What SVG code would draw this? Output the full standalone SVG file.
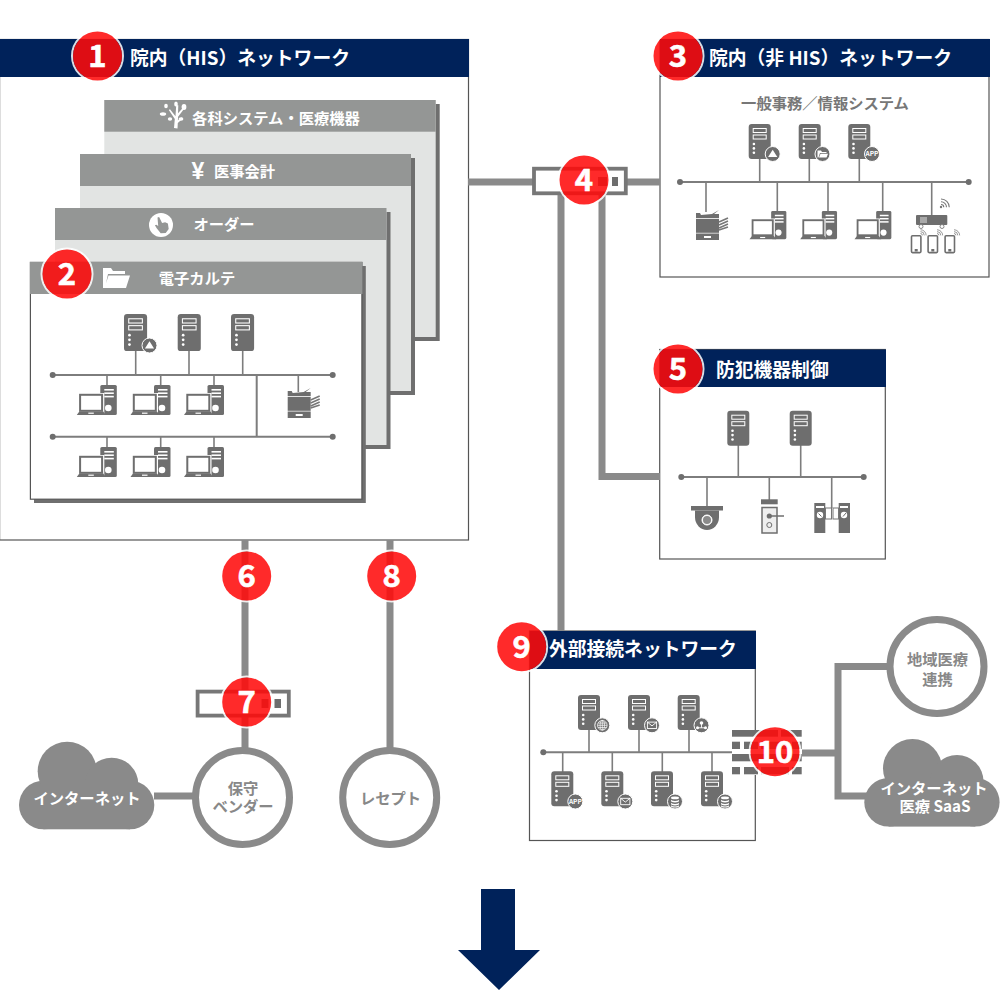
<svg xmlns="http://www.w3.org/2000/svg" xmlns:xlink="http://www.w3.org/1999/xlink" width="1000" height="990" viewBox="0 0 1000 990">
<style>
text{font-family:"Noto Sans CJK JP","Noto Sans",sans-serif;font-weight:700}
.head{fill:#00225a}
.frame{fill:#fff;stroke:#555;stroke-width:1.2}
.page{fill:#e2e4e3}
.pagehead{fill:#949695}
.shadow{fill:#6f6f6f}
.ttl{fill:#fff;font-size:18.8px}
.sub{fill:#fff;font-size:15.3px;text-anchor:middle}
.gray{fill:#888;font-size:15.3px;text-anchor:middle}
.thick{fill:none;stroke:#8a8a8a;stroke-width:7}
.bus{fill:none;stroke:#7d7d7d;stroke-width:2}
.drop{fill:none;stroke:#7d7d7d;stroke-width:1.6}
.dot{fill:#6e6e6e}
.ring{fill:#fff;stroke:#8a8a8a;stroke-width:7}
.gate{fill:#fff;stroke:#777;stroke-width:3.8}
.dev{fill:#6e6e6e}
.w{fill:#fff}
.wl{fill:none;stroke:#fff;stroke-width:1}
.badge-c{fill:#ff0a0a;fill-opacity:.87}
.badge-r{fill:none;stroke:#fff;stroke-opacity:.85;stroke-width:2}
.badge-t{fill:#fff;stroke:#fff;stroke-width:.6;font-size:31px;text-anchor:middle}
.wifi{fill:none;stroke:#777;stroke-width:1}
.mini{fill:#6e6e6e;stroke:#fff;stroke-width:1}
.cl{fill:#8a8a8a}
</style>
<defs>
<g id="srv">
<rect class="dev" width="22" height="35" rx="3"/>
<rect class="wl" x="4.5" y="4.5" width="13" height="4"/>
<rect class="wl" x="4.5" y="11" width="13" height="4"/>
<circle class="w" cx="5.2" cy="20" r="1.3"/><circle class="w" cx="5.2" cy="24.4" r="1.3"/><circle class="w" cx="5.2" cy="28.8" r="1.3"/>
</g>
<g id="pc">
<rect class="dev" x="23" width="16.5" height="30" rx="1.5"/>
<rect class="w" x="27" y="4" width="9.5" height="1.6"/><rect class="w" x="27" y="7.4" width="9.5" height="1.6"/><rect class="w" x="27" y="10.8" width="9.5" height="1.6"/>
<circle class="w" cx="31" cy="23" r="3.3"/>
<path d="M1 8h26v22H-1z" fill="#fff"/>
<rect x="2.8" y="9.8" width="22" height="16" fill="#fff" stroke="#6e6e6e" stroke-width="2"/>
<path class="dev" d="M2 26.5h24l2.5 3.5H-.5z"/>
<rect class="w" x="11" y="27.6" width="5.5" height="1.2"/>
</g>
<g id="printer">
<path class="dev" d="M0 3h4l1 2 11-1 7-4-5 4h5v4H0z"/>
<rect class="dev" y="8.800" width="23" height="14"/>
<path class="dev" d="M0 23.500h23v6.500H0zM8 26v2h7v-2z" fill-rule="evenodd"/>
<path d="M23 12l9-4M23 15l9-4M23 18l9-4M23 20l9-3" stroke="#777" stroke-width="1.600" fill="none"/>
</g>
<g id="cloud">
<circle class="cl" cx="24.3" cy="63.3" r="24.3"/>
<circle class="cl" cx="111" cy="63.3" r="24.3"/>
<circle class="cl" cx="48.2" cy="29.5" r="29.5"/>
<circle class="cl" cx="92.7" cy="42.6" r="26.6"/>
<rect class="cl" x="24.3" y="40" width="86.7" height="47.6"/>
</g>
<g id="wave"><path class="wifi" d="M0 0a2.500 2.500 0 0 1 2.500 2.500M0-2.500a5 5 0 0 1 5 5M0-5a7.500 7.500 0 0 1 7.500 7.500"/></g>
<g id="phone"><rect x=".8" y=".8" width="9.4" height="16.800" rx="1" fill="#fff" stroke="#6e6e6e" stroke-width="1.600"/><rect class="dev" x="4" y="14" width="3" height="2.500"/></g>
<g id="i-tri"><circle class="mini" r="7.5"/><path class="w" d="M0-4.200 4.600 3H-4.600z"/></g>
<g id="i-folder"><circle class="mini" r="7.5"/><path class="w" d="M-5-3.500h3.500l1 1.500H4v1H-2.500L-4 3.500H-5zM-2-.3H5.500L4 3.500H-3.500z"/></g>
<g id="i-app"><circle class="mini" r="7.5"/><text y="2.400" text-anchor="middle" font-size="6.500" style="fill:#fff">APP</text></g>
<g id="i-mail"><circle class="mini" r="7.5"/><rect x="-4.600" y="-3.200" width="9.200" height="6.400" fill="none" stroke="#fff" stroke-width=".9"/><path d="M-4.600-3.200 0 .6 4.600-3.200" fill="none" stroke="#fff" stroke-width=".9"/></g>
<g id="i-globe"><circle class="mini" r="7.5"/><g fill="none" stroke="#fff" stroke-width=".7"><circle r="4.800"/><ellipse rx="2.200" ry="4.800"/><path d="M0-4.800V4.800M-4.800 0H4.800M-4.200-2.200H4.200M-4.200 2.200H4.200"/></g></g>
<g id="i-net"><circle class="mini" r="7.5"/><circle class="w" cy="-2.300" r="1.800"/><circle class="w" cx="-4" cy="2.500" r="1.500"/><circle class="w" cx="4" cy="2.500" r="1.500"/><path d="M-4 2.500H4M0-2V2.500" stroke="#fff" stroke-width=".9"/></g>
<g id="i-db"><circle class="mini" r="7.5"/><path class="w" d="M-4-3.800a4 1.300 0 0 1 8 0v.2a4 1.300 0 0 1-8 0zM-4-2a4 1.400 0 0 0 8 0V-.4a4 1.300 0 0 1-8 0zM-4 1a4 1.400 0 0 0 8 0V2.600a4 1.300 0 0 1-8 0zM-4 3.600a4 1.400 0 0 0 8 0V4.800a4 1.300 0 0 1-8 0z"/></g>
</defs>

<!-- network panels and stacked system pages -->
<g id="panel-his">
<rect class="frame" x="-.4" y="39.500" width="468.900" height="500.500"/>
<rect class="head" x="0" y="39" width="469" height="38"/>
<text class="ttl" x="130" y="65">院内（HIS）ネットワーク</text>
</g>
<g id="page-devices">
<rect class="shadow" x="108.300" y="104" width="331.400" height="237"/>
<rect class="page" x="104.300" y="100" width="331.400" height="237"/>
<rect class="pagehead" x="104.300" y="100" width="331.400" height="31.700"/>
<path class="w" d="M174 128l.8-9-6-9 1.200-.7 5.500 7 .7-11h2.100l-.3 8 4.500-5 1.300 1-5.700 7.500-.2 3.500 4-3 .9 1.100-5 4.500-.3 5.600z"/><ellipse class="w" cx="163" cy="114" rx="3.200" ry="1.800"/><ellipse class="w" cx="184" cy="107" rx="2.400" ry="3"/><ellipse class="w" cx="166" cy="106" rx="1.800" ry="2.200"/><ellipse class="w" cx="176" cy="104" rx="1.800" ry="2.500"/><ellipse class="w" cx="170" cy="119" rx="2.200" ry="1.700"/><ellipse class="w" cx="181" cy="119" rx="2.400" ry="1.700"/>
<text class="sub" x="276" y="123.500">各科システム・医療機器</text>
</g>
<g id="page-accounting">
<rect class="shadow" x="84" y="158" width="331" height="237"/>
<rect class="page" x="80" y="154" width="331" height="237"/>
<rect class="pagehead" x="80" y="154" width="331" height="32"/>
<text x="198" y="179" text-anchor="middle" font-size="23" style="fill:#fff;font-family:'Liberation Sans',sans-serif">¥</text>
<text class="sub" x="244.500" y="176.500">医事会計</text>
</g>
<g id="page-orders">
<rect class="shadow" x="59" y="212" width="331.500" height="237"/>
<rect class="page" x="55" y="208" width="331.500" height="237"/>
<rect class="pagehead" x="55" y="208" width="331.500" height="32"/>
<circle class="w" cx="161" cy="225" r="12"/>
<path fill="#949695" d="M157.500 217.500l1.600-.6 3 6 3-.6 2.800 1.200.8 5.400-3 4-5 .4-4-5-1.800-3 1.500-.6 1.800 1.400z"/>
<text class="sub" x="224" y="230">オーダー</text>
</g>
<g id="page-emr">
<rect class="shadow" x="34" y="266" width="331.800" height="237"/>
<rect class="frame" x="30.400" y="262.400" width="331.500" height="236.800"/>
<rect class="pagehead" x="30" y="262" width="332.500" height="32"/>
<path class="w" d="M103 288v-20h8l2 3h12v3h-17l-3 14zM108.500 275.500H130L126 288H104.500z"/>
<text class="sub" x="197" y="284">電子カルテ</text>
</g>
<g id="panel-general">
<rect class="frame" x="660" y="39.500" width="329" height="237.500"/>
<rect class="head" x="660" y="39" width="330" height="38"/>
<text class="ttl" x="709" y="65">院内（非 HIS）ネットワーク</text>
<text class="gray" x="825" y="108.500" style="fill:#777">一般事務／情報システム</text>
</g>
<g id="panel-security">
<rect class="frame" x="659.700" y="349.500" width="225.600" height="209.500"/>
<rect class="head" x="660" y="349.500" width="226" height="37.500"/>
<text class="ttl" x="716" y="376.500">防犯機器制御</text>
</g>
<g id="panel-external">
<rect class="frame" x="529.500" y="631" width="225.800" height="209.500"/>
<rect class="head" x="530" y="631" width="226" height="38"/>
<text class="ttl" x="549" y="656">外部接続ネットワーク</text>
</g>

<!-- links, gateway boxes and LAN buses -->
<g id="connectors">
<path class="thick" d="M468 182H660M561 190V631M602 190V476.500H660"/>
<path class="thick" d="M245 540V750M390 540V750M154 796H194"/>
<path class="thick" d="M802 753H838M888 666.500H838V796H868"/>
<path class="bus" d="M52.700 375H332.700M52.700 436.700H332.700M256.700 375V436.700"/>
<path class="drop" d="M135.700 351V375M189 351V375M242.700 351V375M107 375V386M160.700 375V386M214 375V386M107 437V448M160.700 437V448M214 437V448M298.300 375V392"/>
<circle class="dot" cx="52.700" cy="375" r="3"/><circle class="dot" cx="332.700" cy="375" r="3"/><circle class="dot" cx="52.700" cy="436.700" r="3"/><circle class="dot" cx="332.700" cy="436.700" r="3"/>
<path class="bus" d="M680 182H968.700"/>
<path class="drop" d="M759.700 158V182M809.300 158V182M859.300 158V182M706 182V212M777.300 182V212M828 182V212M882.700 182V212M931.700 182V216"/>
<circle class="dot" cx="680" cy="182" r="3"/><circle class="dot" cx="968.700" cy="182" r="3"/>
<path class="bus" d="M681.300 477H863.700"/>
<path class="drop" d="M738.300 445V477M800.700 445V477M707 477V507M769.300 477V500M831.700 477V508"/>
<circle class="dot" cx="681.300" cy="477" r="3"/><circle class="dot" cx="863.700" cy="477" r="3"/>
<path class="bus" d="M543.300 752.300H733"/>
<path class="drop" d="M589 730V752M639 730V752M689 730V752M562.700 752V772M612.300 752V772M662.300 752V772M712 752V772"/>
<circle class="dot" cx="543.300" cy="752.300" r="3"/>
</g>

<!-- devices on the electronic records LAN -->
<g id="emr-lan">
<use xlink:href="#srv" transform="translate(124 314) scale(1.050 1.060)"/>
<use xlink:href="#i-tri" transform="translate(149.500 345.500)"/>
<use xlink:href="#srv" transform="translate(177.700 314) scale(1.050 1.060)"/>
<use xlink:href="#srv" transform="translate(231 314) scale(1.050 1.060)"/>
<use xlink:href="#pc" x="77.300" y="385"/><use xlink:href="#pc" x="131" y="385"/><use xlink:href="#pc" x="184.500" y="385"/>
<use xlink:href="#pc" x="77.300" y="447"/><use xlink:href="#pc" x="131" y="447"/><use xlink:href="#pc" x="184.500" y="447"/>
<use xlink:href="#printer" x="287.700" y="388"/>
</g>
<g id="general-lan">
<use xlink:href="#srv" x="748.700" y="124"/><use xlink:href="#i-tri" transform="translate(772.700 154)"/>
<use xlink:href="#srv" x="798.700" y="124"/><use xlink:href="#i-folder" transform="translate(822.500 154)"/>
<use xlink:href="#srv" x="848.300" y="124"/><use xlink:href="#i-app" transform="translate(872 154)"/>
<use xlink:href="#printer" x="696" y="210"/>
<use xlink:href="#pc" transform="translate(750 211) scale(.92 .94)"/>
<use xlink:href="#pc" transform="translate(800.700 211) scale(.92 .94)"/>
<use xlink:href="#pc" transform="translate(855 211) scale(.92 .94)"/>
<g id="wifi-router">
<rect class="dev" x="916" y="215" width="31.300" height="10" rx="1"/>
<rect x="920" y="217" width="7" height="6" fill="#a8a8a8"/>
<circle cx="921" cy="226.500" r="2" fill="none" stroke="#888"/><circle cx="942" cy="226.500" r="2" fill="none" stroke="#888"/>
<circle cx="941" cy="207" r="1.200" fill="#777"/>
<use xlink:href="#wave" transform="translate(941 204.500) scale(1.100)"/>
<use xlink:href="#phone" x="910.700" y="235"/><use xlink:href="#phone" x="927.300" y="235"/><use xlink:href="#phone" x="944.300" y="235"/>
<use xlink:href="#wave" transform="translate(920.500 233.500) scale(.75)"/><use xlink:href="#wave" transform="translate(937 233.500) scale(.75)"/><use xlink:href="#wave" transform="translate(954 233.500) scale(.75)"/>
</g>
</g>
<g id="security-lan">
<use xlink:href="#srv" x="727.300" y="410.700"/><use xlink:href="#srv" x="789.700" y="410.700"/>
<g id="camera">
<rect class="dev" x="691" y="506" width="32" height="4.500"/>
<path class="dev" d="M695 510.500H719V517A12 13 0 0 1 695 517Z"/>
<circle cx="707" cy="520" r="5" fill="#fff" stroke="#fff"/><circle cx="707" cy="520" r="4" fill="#8a8a8a"/>
</g>
<g id="door-lock">
<rect class="dev" x="761" y="499.300" width="16.700" height="5"/>
<rect x="762" y="507.500" width="15" height="25.500" fill="#eee" stroke="#6e6e6e" stroke-width="1.500"/>
<circle class="dev" cx="769.300" cy="516" r="2.600"/><path d="M769 516H784" stroke="#6e6e6e" stroke-width="1.500"/>
<circle cx="769.300" cy="525" r="2.500" fill="none" stroke="#6e6e6e"/>
</g>
<g id="turnstile">
<rect class="dev" x="814.300" y="503" width="11" height="30"/><rect class="dev" x="838.700" y="503" width="11.300" height="30"/>
<rect x="825.500" y="508" width="6" height="11" fill="#fff" stroke="#777"/><rect x="833" y="508" width="5.500" height="11" fill="#fff" stroke="#777"/>
<rect class="w" x="816" y="506" width="8" height="2"/><rect class="w" x="840" y="506" width="8" height="2"/>
<circle class="w" cx="820" cy="515" r="3.200"/><circle class="w" cx="844" cy="515" r="3.200"/>
<path d="M818.500 513.500l3 3M846 513l-3 3.500" stroke="#6e6e6e"/>
</g>
</g>
<g id="external-lan">
<use xlink:href="#srv" x="578" y="695"/><use xlink:href="#i-globe" transform="translate(602.300 725.300)"/>
<use xlink:href="#srv" x="628" y="695"/><use xlink:href="#i-mail" transform="translate(652 725.300)"/>
<use xlink:href="#srv" x="677.700" y="695"/><use xlink:href="#i-net" transform="translate(701.500 725.300)"/>
<use xlink:href="#srv" x="551.300" y="771.300"/><use xlink:href="#i-app" transform="translate(575.300 801.500)"/>
<use xlink:href="#srv" x="601.300" y="771.300"/><use xlink:href="#i-mail" transform="translate(625.300 801.500)"/>
<use xlink:href="#srv" x="651" y="771.300"/><use xlink:href="#i-db" transform="translate(675 801.500)"/>
<use xlink:href="#srv" x="701" y="771.300"/><use xlink:href="#i-db" transform="translate(725 801.500)"/>
</g>

<!-- gateway devices -->
<g id="gateway-4">
<rect class="gate" x="534" y="168.700" width="91.800" height="24.600"/>
<rect class="dev" x="612" y="177" width="6" height="9"/><rect class="dev" x="598" y="177" width="9" height="9"/>
</g>
<g id="gateway-7">
<rect class="gate" x="197.600" y="691.600" width="91.200" height="24"/>
<rect class="dev" x="274.500" y="699" width="6.500" height="9"/><rect class="dev" x="261.500" y="699" width="7" height="9"/>
</g>
<g id="firewall">
<rect class="w" x="732" y="730" width="70" height="45"/>
<rect class="dev" x="732" y="730" width="46" height="6.700"/><rect class="dev" x="781" y="730" width="20.700" height="6.700"/>
<rect class="dev" x="732" y="741.700" width="8" height="7.300"/><rect class="dev" x="744" y="741.700" width="14" height="7.300"/><rect class="dev" x="761" y="741.700" width="28" height="7.300"/><rect class="dev" x="792" y="741.700" width="9.700" height="7.300"/>
<rect class="dev" x="732" y="754" width="46" height="7.300"/><rect class="dev" x="781" y="754" width="20.700" height="7.300"/>
<rect class="dev" x="732" y="767" width="8" height="7.300"/><rect class="dev" x="744" y="767" width="14" height="7.300"/><rect class="dev" x="761" y="767" width="28" height="7.300"/><rect class="dev" x="792" y="767" width="9.700" height="7.300"/>
</g>

<!-- outside parties -->
<g id="vendor">
<circle class="ring" cx="242.500" cy="797.500" r="47"/>
<text class="gray" x="243" y="793.500">保守</text>
<text class="gray" x="243" y="811.500">ベンダー</text>
</g>
<g id="receipt">
<circle class="ring" cx="389.700" cy="797.500" r="47"/>
<text class="gray" x="390.500" y="803.500">レセプト</text>
</g>
<g id="internet">
<use xlink:href="#cloud" x="19" y="741.700"/>
<text class="sub" x="87" y="804">インターネット</text>
</g>
<g id="regional">
<circle class="ring" cx="937" cy="666.500" r="47"/>
<text class="gray" x="937.500" y="665">地域医療</text>
<text class="gray" x="937.500" y="685">連携</text>
</g>
<g id="saas">
<use xlink:href="#cloud" x="864.300" y="739"/>
<text class="sub" x="934" y="794">インターネット</text>
<text class="sub" x="935" y="811.500">医療 SaaS</text>
</g>

<!-- numbered markers -->
<g id="badge-1"><circle class="badge-r" cx="97.500" cy="56" r="25.500"/><circle class="badge-c" cx="97.500" cy="56" r="24.500"/><text class="badge-t" x="97.500" y="67">1</text></g>
<g id="badge-2"><circle class="badge-r" cx="67" cy="274" r="25.500"/><circle class="badge-c" cx="67" cy="274" r="24.500"/><text class="badge-t" x="67" y="285">2</text></g>
<g id="badge-3"><circle class="badge-r" cx="678" cy="56" r="25.500"/><circle class="badge-c" cx="678" cy="56" r="24.500"/><text class="badge-t" x="678" y="67">3</text></g>
<g id="badge-4"><circle class="badge-r" cx="584" cy="180" r="25.500"/><circle class="badge-c" cx="584" cy="180" r="24.500"/><text class="badge-t" x="584" y="191">4</text></g>
<g id="badge-5"><circle class="badge-r" cx="678" cy="369" r="25.500"/><circle class="badge-c" cx="678" cy="369" r="24.500"/><text class="badge-t" x="678" y="380">5</text></g>
<g id="badge-6"><circle class="badge-r" cx="246.700" cy="576" r="25.500"/><circle class="badge-c" cx="246.700" cy="576" r="24.500"/><text class="badge-t" x="246.700" y="587">6</text></g>
<g id="badge-7"><circle class="badge-r" cx="246.700" cy="702" r="25.500"/><circle class="badge-c" cx="246.700" cy="702" r="24.500"/><text class="badge-t" x="246.700" y="713">7</text></g>
<g id="badge-8"><circle class="badge-r" cx="391.700" cy="576" r="25.500"/><circle class="badge-c" cx="391.700" cy="576" r="24.500"/><text class="badge-t" x="391.700" y="587">8</text></g>
<g id="badge-9"><circle class="badge-r" cx="521.700" cy="646.700" r="25.500"/><circle class="badge-c" cx="521.700" cy="646.700" r="24.500"/><text class="badge-t" x="521.700" y="657.700">9</text></g>
<g id="badge-10"><circle class="badge-r" cx="775" cy="751.700" r="25.500"/><circle class="badge-c" cx="775" cy="751.700" r="24.500"/><text class="badge-t" x="775" y="762.700">10</text></g>

<!-- downward arrow -->
<path id="down-arrow" fill="#00225a" d="M481 889H515V950H540L499 990 458 950H481Z"/>
</svg>
